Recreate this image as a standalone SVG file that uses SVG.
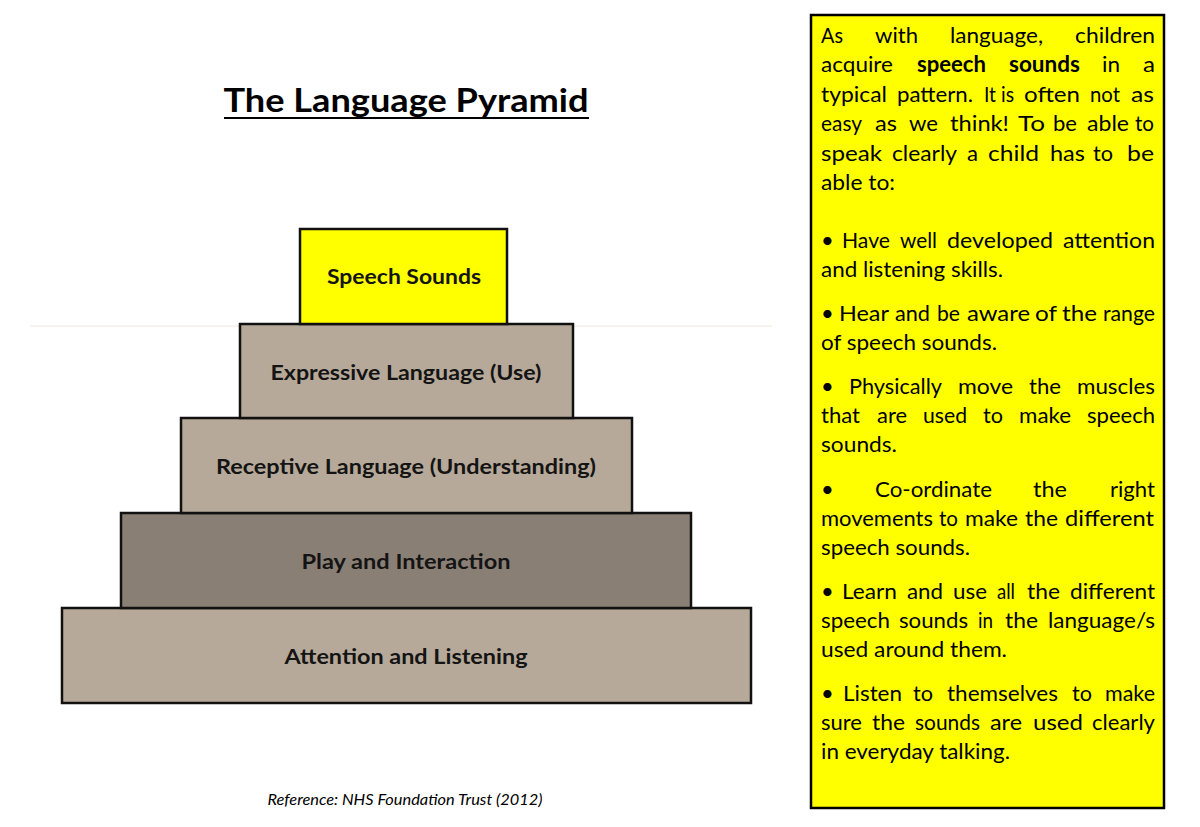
<svg xmlns="http://www.w3.org/2000/svg" width="1200" height="827" viewBox="0 0 1200 827">
<style>
.lvl{stroke:#111;stroke-width:2.5}
.tan{fill:#B7A999}
.dark{fill:#8A7F74}
.lab{font-family:Lato,"Open Sans",sans-serif;font-weight:bold;font-size:21px;fill:#141414;text-anchor:middle}
.body{font-family:Lato,"Open Sans",sans-serif;font-size:22px;fill:#000}
.b{font-weight:bold}
</style>
<rect width="1200" height="827" fill="#fff"/>
<g id="title">
<text x="406" y="112" font-family="Lato,'Open Sans',sans-serif" font-weight="bold" font-size="33" text-anchor="middle" textLength="365" lengthAdjust="spacingAndGlyphs">The Language Pyramid</text>
<line x1="224" y1="118" x2="589" y2="118" stroke="#000" stroke-width="2"/>
</g>
<line x1="30" y1="326" x2="772" y2="326" stroke="#EFE6DB" stroke-width="1"/>
<g id="pyramid">
<g id="attention"><rect class="lvl tan" x="62" y="608" width="689" height="95"/><text class="lab" x="406" y="664" textLength="243" lengthAdjust="spacingAndGlyphs">Attention and Listening</text></g>
<g id="play"><rect class="lvl dark" x="121" y="513" width="570" height="95"/><text class="lab" x="406" y="569" textLength="209" lengthAdjust="spacingAndGlyphs">Play and Interaction</text></g>
<g id="receptive"><rect class="lvl tan" x="181" y="418" width="451" height="95"/><text class="lab" x="406" y="474" textLength="380" lengthAdjust="spacingAndGlyphs">Receptive Language (Understanding)</text></g>
<g id="expressive"><rect class="lvl tan" x="240" y="324" width="333" height="94"/><text class="lab" x="406" y="380" textLength="271" lengthAdjust="spacingAndGlyphs">Expressive Language (Use)</text></g>
<g id="speech"><rect class="lvl" fill="#FFFF00" x="300" y="229" width="207" height="95"/><text class="lab" x="404" y="284" textLength="154" lengthAdjust="spacingAndGlyphs">Speech Sounds</text></g>
</g>
<g id="connectors"/>
<text x="405" y="805" font-family="Lato,'Open Sans',sans-serif" font-style="italic" font-size="15" text-anchor="middle" textLength="275" lengthAdjust="spacingAndGlyphs">Reference: NHS Foundation Trust (2012)</text>
<g id="infobox">
<rect x="811" y="15" width="353" height="793" fill="#FFFF00" stroke="#000" stroke-width="2.5"/>
<g class="body">
<text x="821" y="43" textLength="22" lengthAdjust="spacingAndGlyphs">As</text><text x="875" y="43" textLength="43" lengthAdjust="spacingAndGlyphs">with</text><text x="950" y="43" textLength="93" lengthAdjust="spacingAndGlyphs">language,</text><text x="1075" y="43" textLength="80" lengthAdjust="spacingAndGlyphs">children</text>
<text x="821" y="72" textLength="72" lengthAdjust="spacingAndGlyphs">acquire</text><text class="b" x="917" y="72" textLength="69" lengthAdjust="spacingAndGlyphs">speech</text><text class="b" x="1009" y="72" textLength="71" lengthAdjust="spacingAndGlyphs">sounds</text><text x="1102" y="72" textLength="18" lengthAdjust="spacingAndGlyphs">in</text><text x="1143" y="72" textLength="12" lengthAdjust="spacingAndGlyphs">a</text>
<text x="821" y="102" textLength="66" lengthAdjust="spacingAndGlyphs">typical</text><text x="897" y="102" textLength="76" lengthAdjust="spacingAndGlyphs">pattern.</text><text x="984" y="102" textLength="12" lengthAdjust="spacingAndGlyphs">It</text><text x="1001" y="102" textLength="13" lengthAdjust="spacingAndGlyphs">is</text><text x="1024" y="102" textLength="56" lengthAdjust="spacingAndGlyphs">often</text><text x="1090" y="102" textLength="30" lengthAdjust="spacingAndGlyphs">not</text><text x="1131" y="102" textLength="23" lengthAdjust="spacingAndGlyphs">as</text>
<text x="821" y="131" textLength="41" lengthAdjust="spacingAndGlyphs">easy</text><text x="875" y="131" textLength="22" lengthAdjust="spacingAndGlyphs">as</text><text x="909" y="131" textLength="29" lengthAdjust="spacingAndGlyphs">we</text><text x="950" y="131" textLength="59" lengthAdjust="spacingAndGlyphs">think!</text><text x="1018" y="131" textLength="27" lengthAdjust="spacingAndGlyphs">To</text><text x="1053" y="131" textLength="24" lengthAdjust="spacingAndGlyphs">be</text><text x="1087" y="131" textLength="42" lengthAdjust="spacingAndGlyphs">able</text><text x="1135" y="131" textLength="19" lengthAdjust="spacingAndGlyphs">to</text>
<text x="821" y="161" textLength="61" lengthAdjust="spacingAndGlyphs">speak</text><text x="892" y="161" textLength="65" lengthAdjust="spacingAndGlyphs">clearly</text><text x="967" y="161" textLength="11" lengthAdjust="spacingAndGlyphs">a</text><text x="988" y="161" textLength="51" lengthAdjust="spacingAndGlyphs">child</text><text x="1050" y="161" textLength="35" lengthAdjust="spacingAndGlyphs">has</text><text x="1093" y="161" textLength="20" lengthAdjust="spacingAndGlyphs">to</text><text x="1127" y="161" textLength="27" lengthAdjust="spacingAndGlyphs">be</text>
<text x="821" y="190" textLength="74" lengthAdjust="spacingAndGlyphs">able to:</text>
<text x="821" y="248">•</text><text x="842" y="248" textLength="48" lengthAdjust="spacingAndGlyphs">Have</text><text x="900" y="248" textLength="37" lengthAdjust="spacingAndGlyphs">well</text><text x="947" y="248" textLength="106" lengthAdjust="spacingAndGlyphs">developed</text><text x="1063" y="248" textLength="92" lengthAdjust="spacingAndGlyphs">attention</text>
<text x="821" y="277" textLength="182" lengthAdjust="spacingAndGlyphs">and listening skills.</text>
<text x="821" y="321">•</text><text x="839" y="321" textLength="50" lengthAdjust="spacingAndGlyphs">Hear</text><text x="895" y="321" textLength="35" lengthAdjust="spacingAndGlyphs">and</text><text x="937" y="321" textLength="23" lengthAdjust="spacingAndGlyphs">be</text><text x="967" y="321" textLength="63" lengthAdjust="spacingAndGlyphs">aware</text><text x="1035" y="321" textLength="22" lengthAdjust="spacingAndGlyphs">of</text><text x="1062" y="321" textLength="35" lengthAdjust="spacingAndGlyphs">the</text><text x="1103" y="321" textLength="52" lengthAdjust="spacingAndGlyphs">range</text>
<text x="821" y="350" textLength="176" lengthAdjust="spacingAndGlyphs">of speech sounds.</text>
<text x="821" y="394">•</text><text x="849" y="394" textLength="93" lengthAdjust="spacingAndGlyphs">Physically</text><text x="958" y="394" textLength="55" lengthAdjust="spacingAndGlyphs">move</text><text x="1029" y="394" textLength="32" lengthAdjust="spacingAndGlyphs">the</text><text x="1077" y="394" textLength="78" lengthAdjust="spacingAndGlyphs">muscles</text>
<text x="821" y="423" textLength="39" lengthAdjust="spacingAndGlyphs">that</text><text x="877" y="423" textLength="30" lengthAdjust="spacingAndGlyphs">are</text><text x="923" y="423" textLength="44" lengthAdjust="spacingAndGlyphs">used</text><text x="983" y="423" textLength="20" lengthAdjust="spacingAndGlyphs">to</text><text x="1019" y="423" textLength="52" lengthAdjust="spacingAndGlyphs">make</text><text x="1087" y="423" textLength="68" lengthAdjust="spacingAndGlyphs">speech</text>
<text x="821" y="452" textLength="76" lengthAdjust="spacingAndGlyphs">sounds.</text>
<text x="821" y="497">•</text><text x="875" y="497" textLength="117" lengthAdjust="spacingAndGlyphs">Co-ordinate</text><text x="1033" y="497" textLength="34" lengthAdjust="spacingAndGlyphs">the</text><text x="1110" y="497" textLength="45" lengthAdjust="spacingAndGlyphs">right</text>
<text x="821" y="526" textLength="112" lengthAdjust="spacingAndGlyphs">movements</text><text x="939" y="526" textLength="19" lengthAdjust="spacingAndGlyphs">to</text><text x="965" y="526" textLength="53" lengthAdjust="spacingAndGlyphs">make</text><text x="1025" y="526" textLength="33" lengthAdjust="spacingAndGlyphs">the</text><text x="1065" y="526" textLength="89" lengthAdjust="spacingAndGlyphs">different</text>
<text x="821" y="555" textLength="149" lengthAdjust="spacingAndGlyphs">speech sounds.</text>
<text x="821" y="599">•</text><text x="842" y="599" textLength="55" lengthAdjust="spacingAndGlyphs">Learn</text><text x="907" y="599" textLength="36" lengthAdjust="spacingAndGlyphs">and</text><text x="953" y="599" textLength="34" lengthAdjust="spacingAndGlyphs">use</text><text x="997" y="599" textLength="18" lengthAdjust="spacingAndGlyphs">all</text><text x="1027" y="599" textLength="33" lengthAdjust="spacingAndGlyphs">the</text><text x="1070" y="599" textLength="85" lengthAdjust="spacingAndGlyphs">different</text>
<text x="821" y="628" textLength="69" lengthAdjust="spacingAndGlyphs">speech</text><text x="899" y="628" textLength="69" lengthAdjust="spacingAndGlyphs">sounds</text><text x="978" y="628" textLength="15" lengthAdjust="spacingAndGlyphs">in</text><text x="1005" y="628" textLength="33" lengthAdjust="spacingAndGlyphs">the</text><text x="1048" y="628" textLength="107" lengthAdjust="spacingAndGlyphs">language/s</text>
<text x="821" y="657" textLength="186" lengthAdjust="spacingAndGlyphs">used around them.</text>
<text x="821" y="701">•</text><text x="843" y="701" textLength="59" lengthAdjust="spacingAndGlyphs">Listen</text><text x="913" y="701" textLength="20" lengthAdjust="spacingAndGlyphs">to</text><text x="947" y="701" textLength="111" lengthAdjust="spacingAndGlyphs">themselves</text><text x="1072" y="701" textLength="20" lengthAdjust="spacingAndGlyphs">to</text><text x="1105" y="701" textLength="50" lengthAdjust="spacingAndGlyphs">make</text>
<text x="821" y="730" textLength="41" lengthAdjust="spacingAndGlyphs">sure</text><text x="872" y="730" textLength="33" lengthAdjust="spacingAndGlyphs">the</text><text x="915" y="730" textLength="65" lengthAdjust="spacingAndGlyphs">sounds</text><text x="990" y="730" textLength="32" lengthAdjust="spacingAndGlyphs">are</text><text x="1033" y="730" textLength="50" lengthAdjust="spacingAndGlyphs">used</text><text x="1092" y="730" textLength="63" lengthAdjust="spacingAndGlyphs">clearly</text>
<text x="821" y="759" textLength="189" lengthAdjust="spacingAndGlyphs">in everyday talking.</text>
</g>
</g>
</svg>
